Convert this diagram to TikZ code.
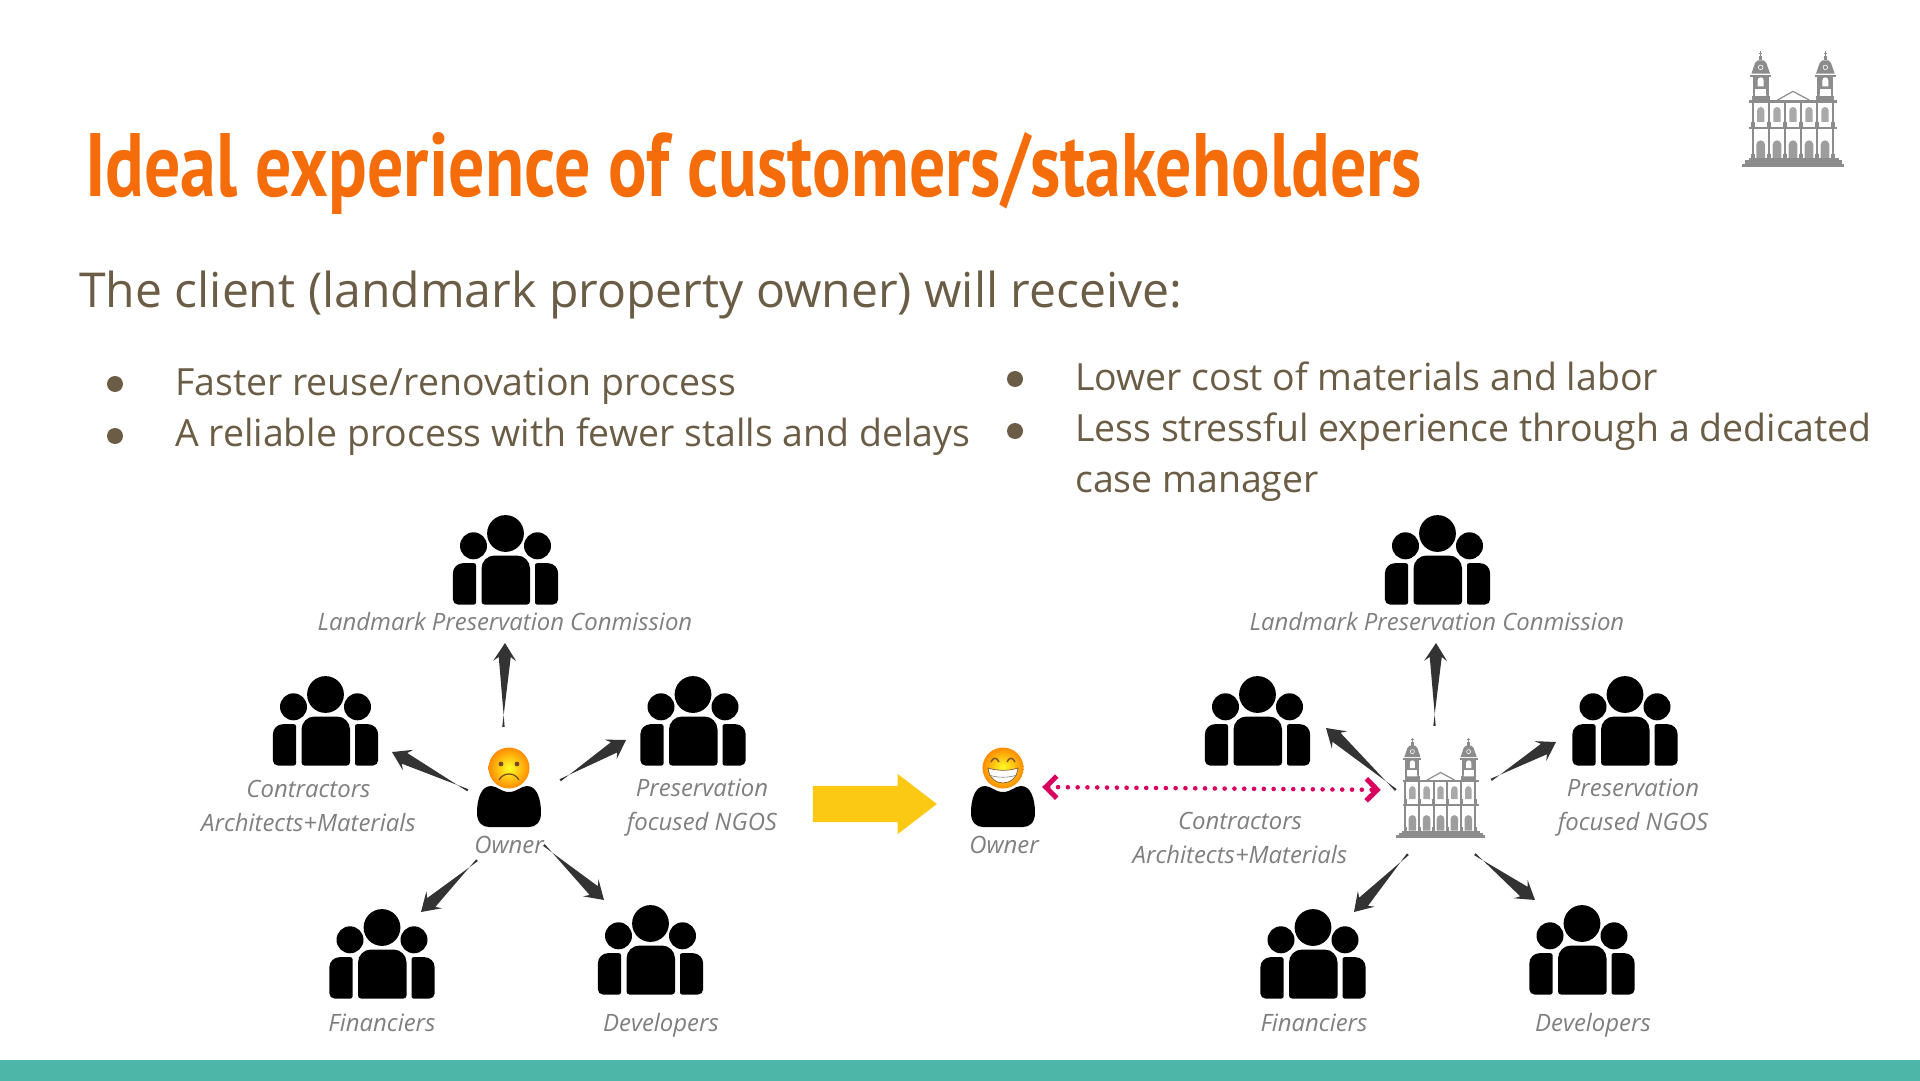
\documentclass[tikz,border=0pt]{standalone}
\usepackage{fontspec}
\usetikzlibrary{calc,arrows.meta,shapes.arrows}
\setmainfont{Open Sans}
\newfontfamily\titlefont[FakeStretch=0.7985]{PT Sans}
\definecolor{titleorange}{HTML}{F46D0A}
\definecolor{bodybrown}{HTML}{6B5C45}
\definecolor{labelgray}{HTML}{7F7F7F}
\definecolor{arrowgray}{HTML}{333333}
\definecolor{churchgray}{HTML}{8C8C8C}
\definecolor{barteal}{HTML}{4DB6A8}
\definecolor{bigyellow}{HTML}{FBC813}
\definecolor{linkpink}{HTML}{D9005F}
\newcommand{\crowdicon}{%
  \fill (0,-26) circle (18.4pt);
  \fill (-32,-13.7) circle (13.5pt);
  \fill (32,-13.7) circle (13.5pt);
  \fill[rounded corners=3pt] (-24,45) -- (24.5,45)
    [rounded corners=13pt] -- (24.5,-4) -- (-24,-4) [rounded corners=3pt] -- cycle;
  \fill[rounded corners=2pt] (-29.5,45) -- (-29.5,3.7)
    [rounded corners=10pt] -- (-52.6,3.7) [rounded corners=5pt] -- (-52.6,45) [rounded corners=2pt] -- cycle;
  \fill[rounded corners=2pt] (29.5,45) -- (29.5,3.7)
    [rounded corners=10pt] -- (52.6,3.7) [rounded corners=5pt] -- (52.6,45) [rounded corners=2pt] -- cycle;
}
\newcommand{\personbody}{%
  \fill (0,5) .. controls (8,5) and (12,-1) .. (18,-1) .. controls (28,-1) and (32,12) .. (32,26)
    .. controls (32,36) and (26,40) .. (20,40) -- (-20,40) .. controls (-26,40) and (-32,36) .. (-32,26)
    .. controls (-32,12) and (-28,-1) .. (-18,-1) .. controls (-12,-1) and (-8,5) .. (0,5) -- cycle;
  \shade[inner color=yellow!85!white, middle color=yellow!75!orange, outer color=orange!90!yellow] (0,-19) circle (20.5pt);
}
\newcommand{\sadface}{%
  \fill[brown!60!black] (-8,-23) circle (2.4pt);
  \fill[brown!60!black] (8,-23) circle (2.4pt);
  \draw[brown!60!black, line width=1.2pt] (-10,-7) .. controls (-6,-15) and (6,-15) .. (10,-7);
}
\newcommand{\happyface}{%
  \draw[brown!70!black, line width=1.5pt] (-12,-25) .. controls (-10,-30) and (-6,-30) .. (-4,-25);
  \draw[brown!70!black, line width=1.5pt] (4,-25) .. controls (6,-30) and (10,-30) .. (12,-25);
  \fill[white, draw=brown!70!black, line width=.7pt] (-15,-19) .. controls (-6,-16) and (6,-16) .. (15,-19)
    .. controls (14,-8) and (6,-4) .. (0,-4) .. controls (-6,-4) and (-14,-8) .. (-15,-19) -- cycle;
  \draw[gray, line width=.6pt] (-14,-12) .. controls (-5,-9) and (5,-9) .. (14,-12);
}
\newcommand{\churchicon}[1]{%
  \begin{scope}[x=#1pt, y=-#1pt, churchgray]
    \fill (-152,167) rectangle (154,176);
    \fill (-143,157) rectangle (147,167);
    \fill (-133,150) rectangle (137,157);
    \fill (-131,57) rectangle (131,64);
    \fill (-131,-23) rectangle (131,-16);
    \foreach \cx in {-121,-73,-24,24,72,120}{
      \fill (\cx-3.5,-16) rectangle (\cx+3.5,57);
      \fill (\cx-3.5,64) rectangle (\cx+3.5,150);
      \fill (\cx-6,137) rectangle (\cx+6,150);
      \fill (\cx-6,43) rectangle (\cx+6,57);
    }
    \foreach \cx in {-97,-48,0,48,96}{
      \fill[opacity=.75] (\cx-11,42) -- (\cx-11,8) arc[start angle=180,end angle=360,radius=11] -- (\cx+11,42) -- cycle;
      \fill[opacity=.85] (\cx-13,150) -- (\cx-13,110) arc[start angle=180,end angle=360,radius=13] -- (\cx+13,150) -- cycle;
    }
    \draw[line width=1.2pt] (-48,-23) -- (0,-50) -- (50,-23);
    \foreach \cx in {-97,97}{
      \fill (\cx-24,-94) rectangle (\cx-17,-23);
      \fill (\cx+17,-94) rectangle (\cx+24,-23);
      \fill (\cx-17,-94) rectangle (\cx+17,-57);
      \fill[white] (\cx-9,-65) -- (\cx-9,-83) arc[start angle=180,end angle=360,radius=9] -- (\cx+9,-65) -- cycle;
      \fill (\cx-31,-100) rectangle (\cx+31,-93);
      \fill (\cx-27,-37) rectangle (\cx+27,-23);
      \fill[white] (\cx-17,-37) -- (\cx-17,-40) arc[start angle=180,end angle=360,radius=17] -- (\cx+17,-37) -- cycle;
      \fill (\cx-28,-103) -- (\cx-17,-135) -- (\cx-9,-143) -- (\cx+9,-143) -- (\cx+17,-135) -- (\cx+28,-103) -- cycle;
      \draw[white, line width=.6pt] (\cx,-122) circle (7);
      \fill (\cx-5,-155) rectangle (\cx+5,-143);
      \fill (\cx-1.5,-170) rectangle (\cx+1.5,-155);
      \fill (\cx-4,-166) rectangle (\cx+4,-163);
    }
  \end{scope}
}
\tikzset{
  crowd/.style={minimum width=106pt, minimum height=92pt, inner sep=0pt,
    path picture={\crowdicon}},
  sadowner/.style={minimum width=78pt, minimum height=84pt, inner sep=0pt,
    path picture={\personbody\sadface}},
  happyowner/.style={minimum width=78pt, minimum height=84pt, inner sep=0pt,
    path picture={\personbody\happyface}},
  arrowbox/.style 2 args={minimum width=#1, minimum height=#2, inner sep=0pt},
  hubchurch/.style={minimum width=100pt, minimum height=112pt, inner sep=0pt,
    path picture={\churchicon{.29}}},
  logochurch/.style={minimum width=114pt, minimum height=124pt, inner sep=0pt,
    path picture={\churchicon{.3333}}},
  stakeholder/.style={font=\itshape\fontsize{23.9}{34}\selectfont, text=labelgray, align=center, inner sep=0pt},
  bodyline/.style={font=\fontsize{37.45}{44}\selectfont, text=bodybrown, anchor=base west, inner sep=0pt},
  dot/.style={circle, fill=bodybrown, minimum size=16pt, inner sep=0pt},
  taper/.style={fill=arrowgray, to path={
    ($(\tikztostart)!1.2pt!90:(\tikztotarget)$) -- ($(\tikztotarget)!14pt!(\tikztostart)!6pt!-90:(\tikztotarget)$)
    -- ($(\tikztotarget)!18pt!(\tikztostart)!11.5pt!-90:(\tikztotarget)$) -- (\tikztotarget)
    -- ($(\tikztotarget)!18pt!(\tikztostart)!11.5pt!90:(\tikztotarget)$)
    -- ($(\tikztotarget)!14pt!(\tikztostart)!6pt!90:(\tikztotarget)$)
    -- ($(\tikztostart)!1.2pt!-90:(\tikztotarget)$) -- cycle}}
}
\begin{document}
\begin{tikzpicture}[x=1pt, y=-1pt]
  \useasboundingbox (0,0) rectangle (1920,1081);

  % header
  \fill[barteal] (0,1060) rectangle (1920,1081);
  \node[logochurch] (logo) at (1793,108) {};
  \node[anchor=base west, inner sep=0pt, text=titleorange, font=\titlefont\bfseries\fontsize{90}{100}\selectfont]
    (title) at (85,196) {Ideal experience of customers/stakeholders};
  \node[anchor=base west, inner sep=0pt, text=bodybrown, font=\fontsize{48.1}{56}\selectfont]
    (lead) at (79,307) {The client (landmark property owner) will receive:};

  % bullets
  \node[dot] (d1) at (115,384) {};
  \node[dot] (d2) at (115,436) {};
  \node[dot] (d3) at (1015,379) {};
  \node[dot] (d4) at (1015,431) {};
  \node[bodyline] (b1) at (175,395) {Faster reuse/renovation process};
  \node[bodyline] (b2) at (175,446) {A reliable process with fewer stalls and delays};
  \node[bodyline] (b3) at (1075,390) {Lower cost of materials and labor};
  \node[bodyline] (b4) at (1075,441) {Less stressful experience through a dedicated};
  \node[bodyline] (b5) at (1075,492) {case manager};

  % left group
  \node[crowd] (commL) at (505.5,559.5) {};
  \node[crowd] (contrL) at (325.5,720.5) {};
  \node[crowd] (presL) at (693,720.5) {};
  \node[crowd] (finL) at (382,953.5) {};
  \node[crowd] (devL) at (650.5,949.5) {};
  \node[sadowner] (sad) at (509,787) {};
  \node[arrowbox={92pt}{133pt}] (ownerL) at (514,793.5) {};
  \node[stakeholder] (lcommL) at (505,622) {Landmark Preservation Conmission};
  \node[stakeholder] (lcontrL) at (308.5,806) {Contractors\\Architects+Materials};
  \node[stakeholder] (lpresL) at (702,808) {Preservation\\focused NGOS};
  \node[stakeholder] (lownerL) at (509,845) {Owner};
  \node[stakeholder] (lfinL) at (382,1023) {Financiers};
  \node[stakeholder] (ldevL) at (661,1025) {Developers};

  % right group
  \node[crowd] (commR) at (1437.5,559.5) {};
  \node[crowd] (contrR) at (1257.5,720.5) {};
  \node[crowd] (presR) at (1625,720.5) {};
  \node[crowd] (finR) at (1313,953.5) {};
  \node[crowd] (devR) at (1582,949.5) {};
  \node[hubchurch] (church) at (1440.5,787) {};
  \node[arrowbox={95pt}{128pt}] (hub) at (1443.5,790) {};
  \node[happyowner] (ownerR) at (1003,787) {};
  \node[stakeholder] (lcommR) at (1437,622) {Landmark Preservation Conmission};
  \node[stakeholder] (lcontrR) at (1240,838) {Contractors\\Architects+Materials};
  \node[stakeholder] (lpresR) at (1633,808) {Preservation\\focused NGOS};
  \node[stakeholder] (lownerR) at (1004,845) {Owner};
  \node[stakeholder] (lfinR) at (1314,1023) {Financiers};
  \node[stakeholder] (ldevR) at (1593,1025) {Developers};

  % arrow ends
  \coordinate (toCommL) at (505,643);
  \coordinate (toContrL) at (392,752);
  \coordinate (toPresL) at (626,740);
  \coordinate (toFinL) at (421,912);
  \coordinate (toDevL) at (604,900);
  \coordinate (toCommR) at (1436,643);
  \coordinate (toContrR) at (1326,728);
  \coordinate (toPresR) at (1556,742);
  \coordinate (toFinR) at (1354,912);
  \coordinate (toDevR) at (1535,900);

  % edges
  \fill[taper] (ownerL.99) to (toCommL);
  \fill[taper] (ownerL.176) to (toContrL);
  \fill[taper] (ownerL.16) to (toPresL);
  \fill[taper] (ownerL.241) to (toFinL);
  \fill[taper] (lownerL.east) to (toDevL);
  \fill[taper] (hub.98) to (toCommR);
  \fill[taper] (hub.west) to (toContrR);
  \fill[taper] (hub.12) to (toPresR);
  \fill[taper] (hub.241) to (toFinR);
  \fill[taper] (hub.296) to (toDevR);

  \node[single arrow, fill=bigyellow, minimum height=124pt, inner xsep=0pt, inner ysep=18pt,
    single arrow head extend=12pt, single arrow tip angle=75] (bigarrow) at (863,804) {};
  \draw[{Straight Barb[length=11pt,width=22pt,line width=5pt]}-{Straight Barb[length=11pt,width=22pt,line width=5pt]},
    linkpink, line width=4.6pt, line cap=round, dash pattern=on 0pt off 9.8pt, shorten >=15pt]
    (ownerR.east) -- (hub.west);
\end{tikzpicture}
\end{document}
